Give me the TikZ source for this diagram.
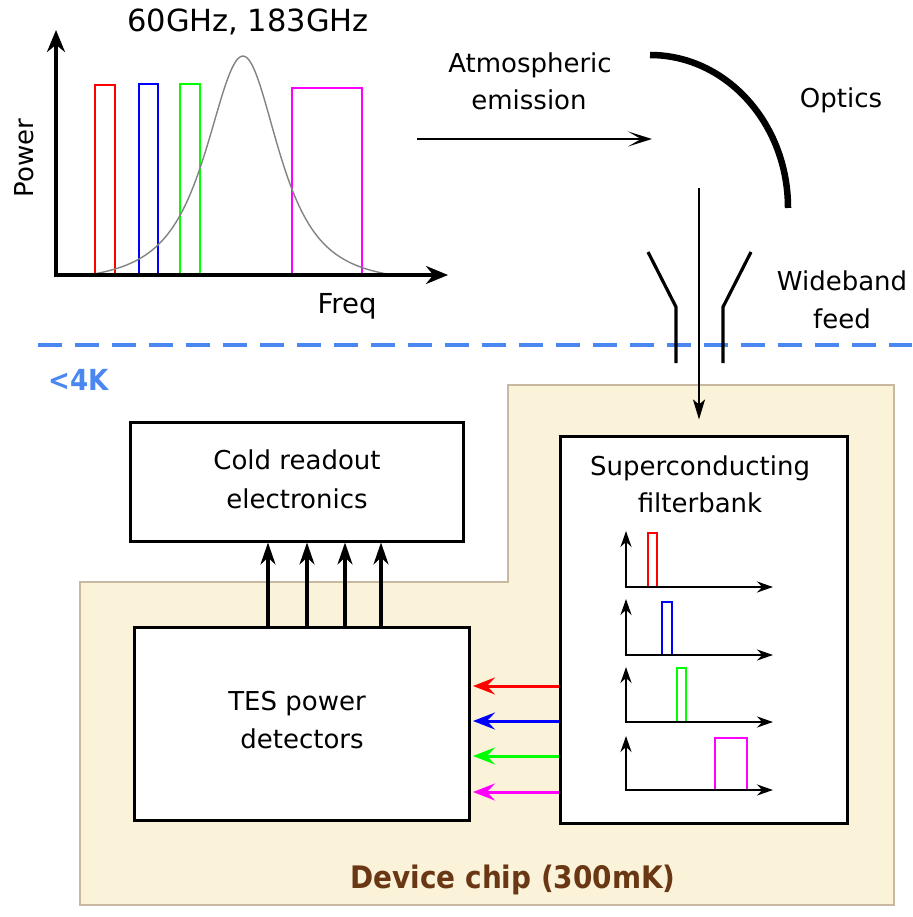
\documentclass[tikz,border=0pt]{standalone}
\usepackage{fontspec}
\setmainfont{DejaVu Sans}
\newfontfamily\condfont{DejaVu Sans}[FakeStretch=0.9]
\usetikzlibrary{arrows.meta,calc}
\definecolor{chipfill}{RGB}{251,242,218}
\definecolor{chipedge}{RGB}{200,185,160}
\definecolor{coldblue}{RGB}{75,135,240}
\definecolor{chipbrown}{RGB}{105,55,20}
\definecolor{curvegray}{RGB}{130,130,130}
\definecolor{pred}{RGB}{255,0,0}
\definecolor{pblue}{RGB}{0,0,255}
\definecolor{pgreen}{RGB}{0,255,0}
\definecolor{pmag}{RGB}{255,0,255}
\begin{document}
\begin{tikzpicture}[x=1pt,y=-1pt,
  txt/.style={font=\fontsize{26}{38}\selectfont, inner sep=0pt, anchor=base},
  bigaxis/.style={line width=3.5pt, -{Stealth[length=22pt,width=18pt]}},
  smallaxis/.style={line width=2.6pt, -{Stealth[length=16pt,width=11pt]}},
  bar/.style={line width=2.6pt},
  sbar/.style={line width=2.2pt},
  boxnode/.style={draw, line width=3pt, fill=white, inner sep=0pt},
  uparrow/.style={line width=3.2pt, -{Stealth[length=22pt,width=15pt,inset=7pt]}},
  colarrow/.style={line width=3pt, -{Stealth[length=22pt,width=17pt,inset=8pt]}},
]
\useasboundingbox (0,0) rectangle (912,917);

% ---------- spectrum plot ----------
\draw[bar, pred] (95,275) rectangle (115,85);
\draw[bar, pblue] (139,275) rectangle (158,84);
\draw[bar, pgreen] (180,275) rectangle (200,84);
\draw[bar, pmag] (292,275) rectangle (362,88);
\draw[curvegray, line width=1.4pt]
  plot[domain=88:243, samples=70] (\x, {275 - (228.4/((1+((\x-243)/57)^2)^1.5) - 9.4)})
  -- plot[domain=243:392, samples=70] (\x, {275 - (228.4/((1+((\x-243)/55)^2)^1.5) - 9.4)});
\coordinate (O) at (56,275);
\coordinate (ytop) at (56,30);
\coordinate (xend) at (448,275);
\draw[bigaxis] (O) -- (ytop);
\draw[bigaxis] ([xshift=-1.75pt]O) -- (xend);
\node[txt, font=\fontsize{30.5}{38}\selectfont] (title) at (248,32) {60GHz, 183GHz};
\node[txt, rotate=90] (power) at (33,158) {Power};
\node[txt, font=\fontsize{27.5}{38}\selectfont] (freq) at (347,313) {Freq};

% ---------- atmosphere & optics ----------
\coordinate (atmA) at (417,139);
\coordinate (atmB) at (652,139);
\draw[line width=2.2pt, -{Stealth[length=24pt,width=15pt,inset=13pt]}] (atmA) -- (atmB);
\node[txt] (atm1) at (530,73) {Atmospheric};
\node[txt] (atm2) at (529,110) {emission};
\draw[line width=6.5pt] (650,55) arc[start angle=-90, end angle=0, x radius=138, y radius=153];
\node[txt] (optics) at (841,108) {Optics};
\node[txt] (wb1) at (842,290) {Wideband};
\node[txt] (wb2) at (842,328) {feed};

% ---------- cold stage boundary ----------
\draw[coldblue, line width=4pt, dash pattern=on 24pt off 13pt] (38,345) -- (912,345);
\node[txt, anchor=base west, text=coldblue, font=\fontsize{29}{34}\selectfont\condfont\bfseries] (cold) at (48,390) {<4K};

% ---------- device chip region ----------
\draw[fill=chipfill, draw=chipedge, line width=1.5pt]
  (80,582) -- (508,582) -- (508,385) -- (894,385) -- (894,905) -- (80,905) -- cycle;
\node[txt, text=chipbrown, font=\fontsize{31}{36}\selectfont\condfont\bfseries] (chip) at (513,888) {Device chip (300mK)};

% ---------- feed horn & beam ----------
\draw[line width=3.2pt] (648,252) -- (676,307) -- (676,363);
\draw[line width=3.2pt] (751,252) -- (723,307) -- (723,363);
\coordinate (beamtop) at (699,188);

% ---------- boxes ----------
\node[boxnode, minimum width=333pt, minimum height=119pt] (readout) at (296.5,481.5) {};
\node[txt] (ro1) at (297,469) {Cold readout};
\node[txt] (ro2) at (297,508) {electronics};

\node[boxnode, minimum width=335pt, minimum height=193pt] (tes) at (301.5,723.5) {};
\node[txt] (tes1) at (297,710) {TES power};
\node[txt] (tes2) at (302,748) {detectors};

\node[boxnode, minimum width=287pt, minimum height=387pt] (fb) at (703.5,629.5) {};
\node[txt] (fb1) at (700,475) {Superconducting};
\node[txt] (fb2) at (700,512) {filterbank};

\draw[line width=2.2pt, -{Stealth[length=20pt,width=12pt,inset=5pt]}] (beamtop) -- ([yshift=15pt]fb.north -| beamtop);

% ---------- TES -> readout arrows ----------
\foreach \xx/\nm in {268/a,307/b,345/c,381/d}{
  \coordinate (up\nm) at (\xx,0);
  \draw[uparrow] (up\nm |- tes.north) -- (up\nm |- readout.south);
}

% ---------- filterbank mini spectra ----------
\foreach \yb/\yt/\xl/\xr/\ht/\col/\nm in {
  587/531/648/657/533/pred/p,
  655/599/662/672/602/pblue/q,
  722/667/677/686/668/pgreen/r,
  790/736/715/747/738/pmag/s}{
  \draw[sbar, \col] (\xl,\yb) rectangle (\xr,\ht);
  \coordinate (o\nm) at (626,\yb);
  \coordinate (t\nm) at (626,\yt);
  \coordinate (e\nm) at (773,\yb);
  \draw[smallaxis] (o\nm) -- (t\nm);
  \draw[smallaxis] ([xshift=-1.3pt]o\nm) -- (e\nm);
}

% ---------- filterbank -> TES arrows ----------
\foreach \yy/\col/\nm in {686/pred/A,721/pblue/B,756/pgreen/C,792/pmag/D}{
  \coordinate (h\nm) at (0,\yy);
  \draw[colarrow, \col] (fb.west |- h\nm) -- ([xshift=2.5pt]tes.east |- h\nm);
}
\end{tikzpicture}
\end{document}
